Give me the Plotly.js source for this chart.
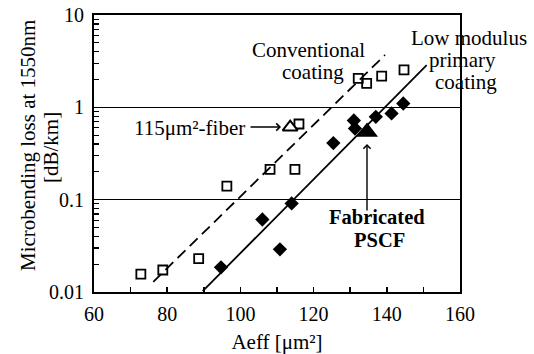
<!DOCTYPE html>
<html><head><meta charset="utf-8">
<script src="https://cdn.plot.ly/plotly-3.0.1.min.js"></script>
<style>html,body{margin:0;padding:0;background:#fff}</style>
</head><body><div id="chart" style="width:534px;height:354px"></div>
<script>
// Conventional coating (open squares)
const convAeff = [72.8, 78.8, 88.6, 96.3, 108.1, 114.9, 116.0, 132.2, 134.5, 138.6, 144.7];
const convLoss = [0.0156, 0.0173, 0.023, 0.14, 0.213, 0.213, 0.66, 2.06, 1.82, 2.18, 2.54];
// Low modulus primary coating (filled diamonds)
const lowAeff = [94.7, 106.0, 110.8, 114.0, 125.4, 131.0, 131.3, 137.0, 141.3, 144.5];
const lowLoss = [0.0185, 0.061, 0.029, 0.091, 0.41, 0.72, 0.59, 0.79, 0.86, 1.10];
// 115 um2 fiber (open triangle) and fabricated PSCF (filled triangle)
const fiber115Aeff = [113.6];
const fiber115Loss = [0.61];
const pscfAeff = [134.6];
const pscfLoss = [0.54];
// Trend lines
const convFitAeff = [76.2, 139.5];
const convFitLoss = [0.0129, 3.69];
const lowFitAeff = [89.7, 150.9];
const lowFitLoss = [0.0102, 2.87];
// Tick labels
const xTickVals = [60, 80, 100, 120, 140, 160];
const yTickVals = [0.01, 0.1, 1, 10];
const yTickText = ['0.01', '0.1', '1', '10'];

const FONT = 'Liberation Serif';
const L = 94, T = 15, W = 366, H = 277;
const px = v => (v - L) / W;
const py = v => (T + H - v) / H;

const traces = [
  {x: convFitAeff, y: convFitLoss, mode: 'lines', line: {color: '#000', width: 1.8, dash: '11px,6px'}, hoverinfo: 'skip'},
  {x: lowFitAeff, y: lowFitLoss, mode: 'lines', line: {color: '#000', width: 1.8}, hoverinfo: 'skip'},
  {x: convAeff, y: convLoss, mode: 'markers', marker: {symbol: 'square-open', size: 9, color: '#000', line: {width: 1.8, color: '#000'}}},
  {x: lowAeff, y: lowLoss, mode: 'markers', marker: {symbol: 'diamond', size: 11, color: '#000'}},
  {x: fiber115Aeff, y: fiber115Loss, mode: 'markers', marker: {symbol: 'triangle-up', size: 13, color: '#fff', line: {width: 2, color: '#000'}}},
  {x: pscfAeff, y: pscfLoss, mode: 'markers', marker: {symbol: 'triangle-up', size: 19, color: '#000'}}
];

function txt(text, x, y, opts) {
  return Object.assign({text: text, xref: 'paper', yref: 'paper', x: px(x), y: py(y),
    xanchor: 'center', yanchor: 'middle', showarrow: false,
    font: {family: FONT, size: 21, color: '#000'}}, opts || {});
}

const annotations = [
  txt('Conventional', 308, 50),
  txt('coating', 313, 72),
  txt('Low modulus', 469, 38),
  txt('primary', 462, 60),
  txt('coating', 466, 82),
  txt('115μm²-fiber', 247, 128, {xanchor: 'right'}),
  txt('<b>Fabricated</b>', 377, 217, {font: {family: FONT, size: 20.5, color: '#000'}}),
  txt('<b>PSCF</b>', 379, 240, {font: {family: FONT, size: 20.5, color: '#000'}}),
  // arrows
  {text: '', xref: 'paper', yref: 'paper', x: px(281), y: py(127), ax: -32, ay: 0,
   showarrow: true, arrowhead: 4, arrowsize: 1, arrowwidth: 1.4, arrowcolor: '#000'},
  {text: '', xref: 'paper', yref: 'paper', x: px(367), y: py(144), ax: 0, ay: 68,
   showarrow: true, arrowhead: 4, arrowsize: 1, arrowwidth: 1.4, arrowcolor: '#000'},
  // y axis title lines
  txt('Microbending loss at 1550nm', 28, 146, {textangle: -90}),
  txt('[dB/km]', 51, 148, {textangle: -90})
];

const layout = {
  width: 534, height: 354,
  margin: {l: L, r: 534 - L - W, t: T, b: 354 - T - H, pad: 0},
  paper_bgcolor: '#fff', plot_bgcolor: '#fff',
  showlegend: false,
  font: {family: FONT, size: 20, color: '#000'},
  xaxis: {
    range: [60, 160], tickvals: xTickVals, ticks: 'inside', ticklen: 5, tickwidth: 1.5, tickcolor: '#000',
    minor: {dtick: 10, ticks: 'inside', ticklen: 5, tickwidth: 1.5, tickcolor: '#000'},
    showline: true, linecolor: '#000', linewidth: 2, mirror: true, showgrid: false, zeroline: false,
    tickfont: {family: FONT, size: 20, color: '#000'}, ticklabelstandoff: 3,
    title: {text: 'Aeff [μm²]', font: {family: FONT, size: 21, color: '#000'}, standoff: 13}
  },
  yaxis: {
    type: 'log', range: [-2, 1], tickvals: yTickVals, ticktext: yTickText,
    ticks: 'inside', ticklen: 6, tickwidth: 1.2, tickcolor: '#000',
    minor: {dtick: 'D1', ticks: 'inside', ticklen: 5, tickwidth: 1.2, tickcolor: '#000', showgrid: false},
    showline: true, linecolor: '#000', linewidth: 2, mirror: true,
    showgrid: true, gridcolor: '#000', gridwidth: 1, zeroline: false,
    tickfont: {family: FONT, size: 20, color: '#000'}, ticklabelstandoff: 4
  },
  annotations: annotations
};

Plotly.newPlot('chart', traces, layout, {displayModeBar: false, staticPlot: true});
</script></body></html>
